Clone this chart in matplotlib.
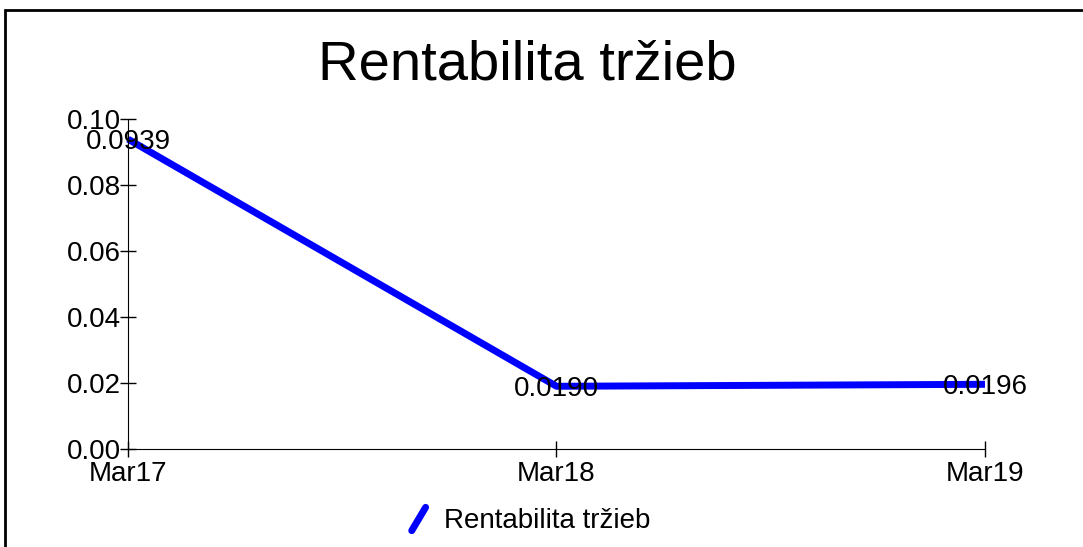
import matplotlib
matplotlib.use("Agg")
import matplotlib.pyplot as plt
from matplotlib.legend_handler import HandlerLine2D
from matplotlib.lines import Line2D
from matplotlib.patches import Rectangle


# ===================================================
# DATA
# ===================================================

TITLE = "Rentabilita tržieb"
CATEGORIES = ["Mar17", "Mar18", "Mar19"]
VALUES = [0.0939, 0.0190, 0.0196]
Y_TICKS = [0.00, 0.02, 0.04, 0.06, 0.08, 0.10]

LINE_COLOR = "#0000ff"
FONT = "Liberation Sans"


# ===================================================
# HELPERS
# ===================================================

class DiagonalHandler(HandlerLine2D):
    """Legend key drawn as a short slanted stroke."""

    def create_artists(self, legend, orig_handle, xdescent, ydescent,
                       width, height, fontsize, trans):
        x0 = -xdescent + width * 0.25
        x1 = -xdescent + width * 0.75
        line = Line2D([x0, x1], [-ydescent - height * 0.15, -ydescent + height * 1.05],
                      color=orig_handle.get_color(), lw=orig_handle.get_linewidth(),
                      solid_capstyle="round")
        line.set_transform(trans)
        return [line]


# ===================================================
# PLOT
# ===================================================

def main():
    plt.rcParams["font.family"] = [FONT, "DejaVu Sans"]

    fig = plt.figure(figsize=(10.83, 5.47), dpi=100)
    ax = fig.add_axes([0.1182, 0.1792, 0.7913, 0.6032])

    x = list(range(len(CATEGORIES)))
    line, = ax.plot(x, VALUES, color=LINE_COLOR, lw=5, label=TITLE,
                    solid_capstyle="butt", clip_on=False)

    for xi, v in zip(x, VALUES):
        ax.annotate(f"{v:.4f}", (xi, v), xytext=(0, -2), textcoords="offset points",
                    ha="center", va="center", fontsize=20)

    ax.set_xlim(0, len(CATEGORIES) - 1)
    ax.set_ylim(0, 0.10)
    ax.set_xticks(x)
    ax.set_xticklabels(CATEGORIES)
    ax.set_yticks(Y_TICKS)
    ax.set_yticklabels([f"{t:.2f}" for t in Y_TICKS])

    ax.tick_params(direction="inout", length=12, width=1, labelsize=20)
    ax.tick_params(axis="y", pad=-1)
    ax.tick_params(axis="x", pad=3)
    for side in ["top", "right"]:
        ax.spines[side].set_visible(False)

    fig.suptitle(TITLE, fontsize=40.5, x=0.487, y=0.88, va="center")

    fig.legend(handles=[line], labels=[TITLE], loc="center",
               bbox_to_anchor=(0.487, 0.048), frameon=False, fontsize=20,
               handler_map={line: DiagonalHandler()}, handlelength=1.0,
               handletextpad=0.4)

    # outer frame, open at right and bottom
    fig.add_artist(Rectangle((5 / 1083, -0.1), 1.2, 1.1 - 10 / 547,
                             transform=fig.transFigure, fill=False,
                             lw=2, edgecolor="black"))

    fig.savefig("out.png", dpi=100, facecolor="white")


if __name__ == "__main__":
    main()
